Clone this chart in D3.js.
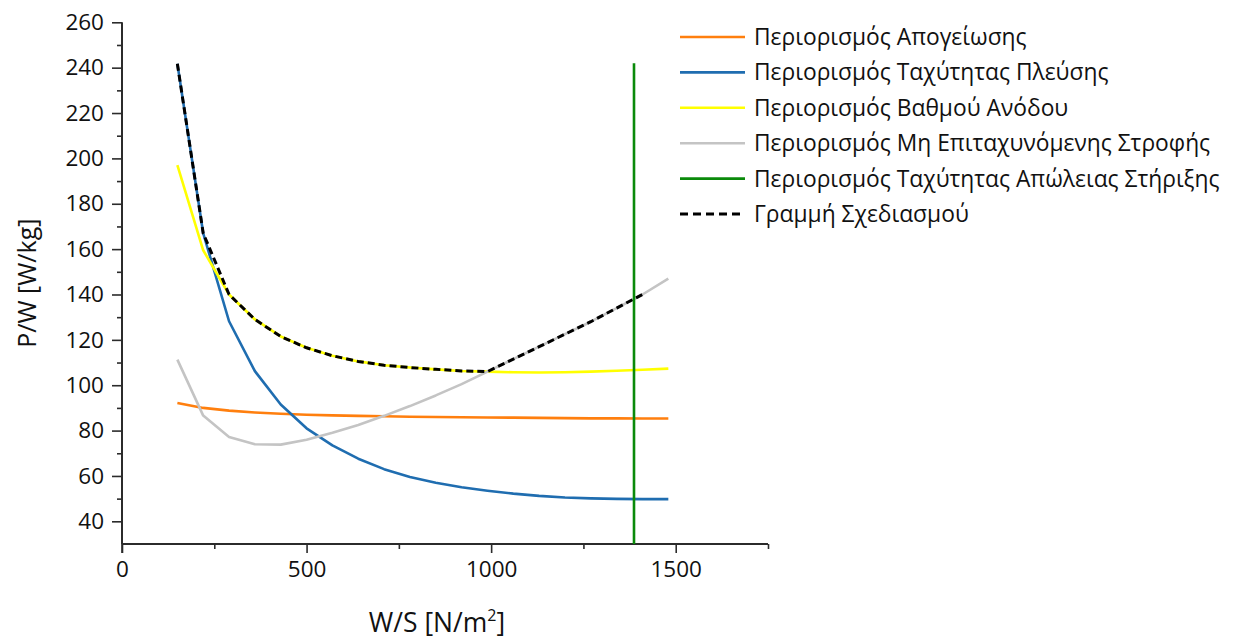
<!DOCTYPE html>
<html>
<head>
<meta charset="utf-8">
<script src="https://cdn.jsdelivr.net/npm/d3@7"></script>
<style>
  html, body { margin: 0; padding: 0; background: #fff; }
  svg { display: block; font-family: "Open Sans", "DejaVu Sans", sans-serif; }
</style>
</head>
<body>
<svg id="chart" width="1241" height="642"></svg>
<script>
// Wing loading grid (N/m²) shared by every constraint curve
const wingLoading = [150, 220, 290, 360, 430, 500, 570, 640, 710, 780,
                     850, 920, 990, 1060, 1130, 1200, 1270, 1340, 1410, 1480];

// Power-to-weight requirement (W/kg) per constraint
const takeoff = [92.2, 90.0, 88.8, 88.0, 87.4, 87.0, 86.7, 86.5, 86.3, 86.1,
                 86.0, 85.9, 85.8, 85.7, 85.6, 85.5, 85.4, 85.4, 85.3, 85.3];
const cruise  = [241.7, 167.0, 128.2, 106.2, 91.5, 81.0, 73.5, 67.6, 63.0, 59.5,
                 57.0, 55.0, 53.5, 52.2, 51.2, 50.5, 50.1, 49.9, 49.8, 49.8];
const climb   = [197.0, 159.5, 140.0, 129.0, 121.5, 116.5, 113.0, 110.5, 108.8, 107.8,
                 107.0, 106.3, 106.0, 105.7, 105.6, 105.7, 106.0, 106.4, 106.8, 107.3];
const turn    = [111.3, 86.6, 77.2, 74.0, 73.8, 76.0, 79.0, 82.5, 86.5, 90.8,
                 95.5, 100.5, 106.0, 111.5, 117.0, 122.5, 128.0, 134.0, 140.0, 147.0];

// Stall speed limit: vertical boundary at a fixed wing loading
const stallWS = [1387, 1387];
const stallPW = [30, 242];

// Design line (upper envelope), up to the stall boundary
const designWS = [150, 220, 290, 360, 430, 500, 570, 640, 710, 780,
                  850, 920, 990, 1060, 1130, 1200, 1270, 1340, 1410];
const designPW = [241.7, 167.0, 140.0, 129.0, 121.5, 116.5, 113.0, 110.5, 108.8, 107.8,
                  107.0, 106.3, 106.0, 111.5, 117.0, 122.5, 128.0, 134.0, 140.0];

const xTicks = [0, 500, 1000, 1500];
const yTicks = [40, 60, 80, 100, 120, 140, 160, 180, 200, 220, 240, 260];

const seriesNames = [
  "Περιορισμός Απογείωσης",
  "Περιορισμός Ταχύτητας Πλεύσης",
  "Περιορισμός Βαθμού Ανόδου",
  "Περιορισμός Μη Επιταχυνόμενης Στροφής",
  "Περιορισμός Ταχύτητας Απώλειας Στήριξης",
  "Γραμμή Σχεδιασμού"
];

const colors = {
  takeoff: "#ff7f0e",
  cruise: "#1f6db0",
  climb: "#ffff00",
  turn: "#c4c4c4",
  stall: "#0a8a0a",
  design: "#000000"
};

const svg = d3.select("#chart");
const plot = { left: 122, right: 768, top: 22.3, bottom: 544 };

const x = d3.scaleLinear().domain([0, 1750]).range([plot.left, plot.right]);
const y = d3.scaleLinear().domain([30, 260]).range([plot.bottom, plot.top]);

const axisColor = "#2b2b2b";
const textColor = "#111";

// Y axis: major ticks every 20, minor every 10
const yMinor = d3.range(50, 260, 20);
const yAxisG = svg.append("g").attr("transform", `translate(${plot.left},0)`);
yAxisG.call(d3.axisLeft(y).tickValues(yTicks).tickSize(10).tickPadding(8).tickFormat(d3.format("d")));
const yMinorG = svg.append("g").attr("transform", `translate(${plot.left},0)`);
yMinorG.call(d3.axisLeft(y).tickValues(yMinor).tickSize(5).tickFormat(""));

// X axis: major ticks every 500, minor every 250
const xMinor = [250, 750, 1250, 1750];
const xAxisG = svg.append("g").attr("transform", `translate(0,${plot.bottom})`);
xAxisG.call(d3.axisBottom(x).tickValues(xTicks).tickSize(9).tickPadding(8).tickFormat(d3.format("d")));
const xMinorG = svg.append("g").attr("transform", `translate(0,${plot.bottom})`);
xMinorG.call(d3.axisBottom(x).tickValues(xMinor).tickSize(5).tickFormat(""));

[yAxisG, yMinorG, xAxisG, xMinorG].forEach(g => {
  g.select(".domain").attr("stroke", axisColor).attr("stroke-width", 2);
  g.selectAll(".tick line").attr("stroke", axisColor).attr("stroke-width", 1.6);
  g.selectAll(".tick text").attr("fill", textColor).attr("font-size", 22.5)
    .attr("font-family", "'Open Sans', sans-serif");
});
// y axis line spans the full plot height without end caps
yAxisG.select(".domain").attr("d", `M0,${plot.bottom}V${plot.top}`);
yMinorG.select(".domain").remove();
xAxisG.select(".domain").attr("d", `M${plot.left},0H${plot.right}`);
xMinorG.select(".domain").remove();
// the y axis line continues down through the x axis as the zero tick
svg.append("line")
  .attr("x1", plot.left).attr("x2", plot.left)
  .attr("y1", plot.bottom).attr("y2", plot.bottom + 9)
  .attr("stroke", axisColor).attr("stroke-width", 1.6);

// Axis titles
svg.append("text")
  .attr("transform", `translate(36,${(plot.top + plot.bottom) / 2}) rotate(-90)`)
  .attr("text-anchor", "middle")
  .attr("font-size", 25)
  .attr("fill", textColor)
  .text("P/W [W/kg]");

const xTitle = svg.append("text")
  .attr("x", 437)
  .attr("y", 632)
  .attr("text-anchor", "middle")
  .attr("font-size", 26.5)
  .attr("fill", textColor);
xTitle.append("tspan").text("W/S [N/m");
xTitle.append("tspan").attr("font-size", 16).attr("dy", -11).text("2");
xTitle.append("tspan").attr("dy", 11).text("]");

// Constraint curves
const line = d3.line().x(d => x(d[0])).y(d => y(d[1]));
const pairs = (xs, ys) => xs.map((v, i) => [v, ys[i]]);

const curves = [
  { data: pairs(wingLoading, takeoff), color: colors.takeoff },
  { data: pairs(wingLoading, cruise), color: colors.cruise },
  { data: pairs(wingLoading, climb), color: colors.climb },
  { data: pairs(wingLoading, turn), color: colors.turn }
];

svg.append("g").selectAll("path").data(curves).join("path")
  .attr("d", d => line(d.data))
  .attr("fill", "none")
  .attr("stroke", d => d.color)
  .attr("stroke-width", 2.6)
  .attr("stroke-linejoin", "round");

// Design line (dashed)
svg.append("path")
  .attr("d", line(pairs(designWS, designPW)))
  .attr("fill", "none")
  .attr("stroke", colors.design)
  .attr("stroke-width", 3)
  .attr("stroke-dasharray", "7,4");

// Stall boundary
svg.append("path")
  .attr("d", line(pairs(stallWS, stallPW)))
  .attr("fill", "none")
  .attr("stroke", colors.stall)
  .attr("stroke-width", 2.6);

// Legend
const legendColors = [colors.takeoff, colors.cruise, colors.climb, colors.turn, colors.stall, colors.design];
const legend = svg.append("g").attr("transform", "translate(680,37)");
const rows = legend.selectAll("g").data(seriesNames).join("g")
  .attr("transform", (d, i) => `translate(0,${i * 35.4})`);
rows.append("line")
  .attr("x1", 0).attr("x2", 65).attr("y1", 0).attr("y2", 0)
  .attr("stroke", (d, i) => legendColors[i])
  .attr("stroke-width", (d, i) => i === 5 ? 3 : 2.6)
  .attr("stroke-dasharray", (d, i) => i === 5 ? "8,5" : null);
rows.append("text")
  .attr("x", 74).attr("y", 0).attr("dy", "0.35em")
  .attr("font-size", 22.8)
  .attr("fill", textColor)
  .text(d => d);
</script>
</body>
</html>
